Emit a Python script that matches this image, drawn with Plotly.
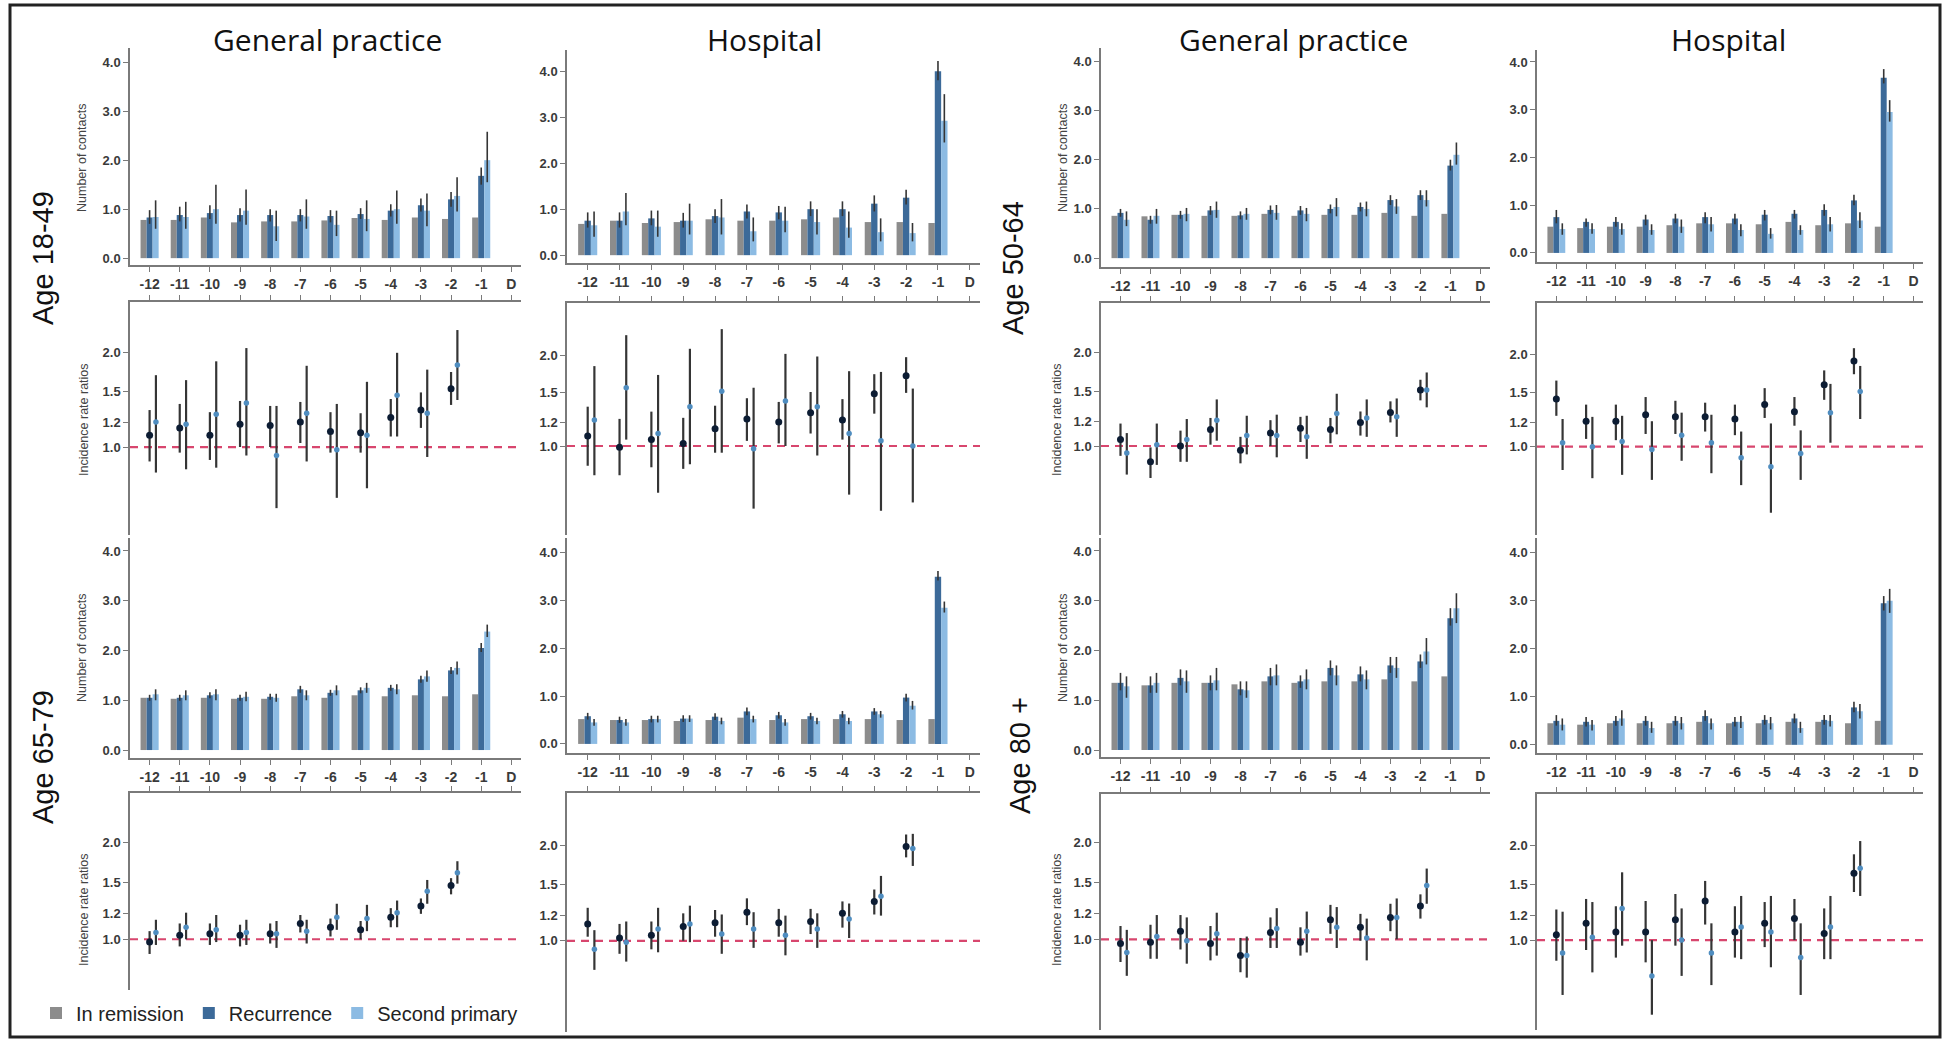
import plotly.graph_objects as go

W, H = 1946, 1040

# ---------------- categories ----------------
periods = ["-12", "-11", "-10", "-9", "-8", "-7", "-6", "-5", "-4", "-3", "-2", "-1", "D"]
bar_months = periods[:12]      # bars drawn for -12 .. -1
irr_months = periods[:11]      # IRRs drawn for -12 .. -2
series_names = ["In remission", "Recurrence", "Second primary"]
column_titles = ["General practice", "Hospital", "General practice", "Hospital"]
age_labels = ["Age 18-49", "Age 50-64", "Age 65-79", "Age 80 +"]

# ---------------- Number of contacts (bars) ----------------
# GP, age 18-49
gp1849_rem = [0.78, 0.78, 0.83, 0.73, 0.75, 0.75, 0.77, 0.82, 0.78, 0.83, 0.80, 0.83]
gp1849_rec = [0.83, 0.88, 0.92, 0.88, 0.88, 0.88, 0.86, 0.90, 0.97, 1.08, 1.20, 1.68]
gp1849_rec_lo = [0.70, 0.75, 0.80, 0.75, 0.75, 0.75, 0.73, 0.80, 0.85, 0.95, 1.05, 1.50]
gp1849_rec_hi = [0.98, 1.05, 1.08, 1.02, 1.00, 1.00, 0.98, 1.02, 1.10, 1.22, 1.35, 1.85]
gp1849_sec = [0.84, 0.84, 1.00, 0.97, 0.65, 0.85, 0.68, 0.80, 1.00, 0.97, 1.27, 2.00]
gp1849_sec_lo = [0.60, 0.60, 0.70, 0.68, 0.35, 0.60, 0.45, 0.55, 0.70, 0.65, 0.95, 1.55]
gp1849_sec_hi = [1.18, 1.15, 1.50, 1.40, 0.97, 1.20, 0.97, 1.18, 1.38, 1.32, 1.65, 2.58]
# Hospital, age 18-49
ho1849_rem = [0.68, 0.75, 0.70, 0.72, 0.78, 0.75, 0.75, 0.78, 0.82, 0.72, 0.72, 0.70]
ho1849_rec = [0.75, 0.75, 0.80, 0.75, 0.85, 0.95, 0.93, 1.00, 1.00, 1.12, 1.25, 4.00]
ho1849_rec_lo = [0.60, 0.60, 0.65, 0.60, 0.70, 0.80, 0.78, 0.85, 0.85, 0.95, 1.10, 3.80]
ho1849_rec_hi = [0.93, 0.93, 0.97, 0.92, 1.00, 1.10, 1.07, 1.17, 1.17, 1.30, 1.42, 4.22]
ho1849_sec = [0.65, 0.95, 0.62, 0.75, 0.82, 0.52, 0.75, 0.72, 0.60, 0.50, 0.48, 2.92]
ho1849_sec_lo = [0.40, 0.65, 0.40, 0.45, 0.45, 0.30, 0.50, 0.45, 0.38, 0.30, 0.30, 2.45]
ho1849_sec_hi = [0.95, 1.35, 0.97, 1.12, 1.22, 0.82, 1.05, 1.00, 0.95, 0.80, 0.70, 3.50]
# GP, age 50-64
gp5064_rem = [0.86, 0.85, 0.88, 0.86, 0.86, 0.90, 0.86, 0.88, 0.88, 0.92, 0.86, 0.90]
gp5064_rec = [0.92, 0.78, 0.88, 0.97, 0.87, 0.98, 0.97, 1.00, 1.04, 1.18, 1.28, 1.88]
gp5064_rec_lo = [0.84, 0.70, 0.80, 0.88, 0.79, 0.89, 0.88, 0.91, 0.95, 1.08, 1.18, 1.78]
gp5064_rec_hi = [1.00, 0.86, 0.96, 1.06, 0.95, 1.07, 1.06, 1.09, 1.13, 1.28, 1.38, 2.00]
gp5064_sec = [0.78, 0.86, 0.90, 0.98, 0.90, 0.92, 0.90, 1.04, 1.00, 1.05, 1.18, 2.10]
gp5064_sec_lo = [0.65, 0.70, 0.75, 0.82, 0.78, 0.78, 0.75, 0.85, 0.85, 0.90, 1.05, 1.90]
gp5064_sec_hi = [0.95, 1.00, 1.02, 1.15, 1.02, 1.08, 1.02, 1.22, 1.15, 1.20, 1.38, 2.35]
# Hospital, age 50-64
ho5064_rem = [0.55, 0.52, 0.55, 0.55, 0.58, 0.62, 0.62, 0.60, 0.65, 0.58, 0.62, 0.55]
ho5064_rec = [0.75, 0.65, 0.65, 0.70, 0.72, 0.75, 0.72, 0.80, 0.82, 0.90, 1.10, 3.67]
ho5064_rec_lo = [0.62, 0.55, 0.55, 0.58, 0.62, 0.62, 0.60, 0.68, 0.72, 0.78, 1.00, 3.55]
ho5064_rec_hi = [0.90, 0.72, 0.75, 0.80, 0.82, 0.85, 0.82, 0.90, 0.90, 1.02, 1.22, 3.85]
ho5064_sec = [0.50, 0.50, 0.50, 0.48, 0.55, 0.60, 0.48, 0.40, 0.48, 0.60, 0.68, 2.95]
ho5064_sec_lo = [0.38, 0.40, 0.38, 0.38, 0.42, 0.45, 0.35, 0.30, 0.38, 0.45, 0.52, 2.75]
ho5064_sec_hi = [0.62, 0.62, 0.62, 0.60, 0.70, 0.75, 0.60, 0.52, 0.58, 0.75, 0.85, 3.20]
# GP, age 65-79
gp6579_rem = [1.05, 1.03, 1.05, 1.03, 1.03, 1.08, 1.05, 1.10, 1.08, 1.10, 1.08, 1.12]
gp6579_rec = [1.05, 1.05, 1.10, 1.05, 1.07, 1.22, 1.15, 1.20, 1.25, 1.42, 1.60, 2.05]
gp6579_rec_lo = [0.99, 0.99, 1.04, 0.99, 1.01, 1.15, 1.09, 1.14, 1.19, 1.35, 1.53, 1.97]
gp6579_rec_hi = [1.11, 1.11, 1.16, 1.11, 1.13, 1.29, 1.21, 1.26, 1.31, 1.49, 1.67, 2.15]
gp6579_sec = [1.12, 1.10, 1.12, 1.07, 1.05, 1.10, 1.20, 1.25, 1.22, 1.48, 1.65, 2.38]
gp6579_sec_lo = [1.00, 1.00, 1.00, 0.98, 0.97, 1.00, 1.10, 1.15, 1.12, 1.37, 1.52, 2.27]
gp6579_sec_hi = [1.22, 1.20, 1.22, 1.17, 1.13, 1.20, 1.30, 1.35, 1.32, 1.60, 1.78, 2.52]
# Hospital, age 65-79
ho6579_rem = [0.52, 0.50, 0.50, 0.48, 0.50, 0.55, 0.50, 0.52, 0.52, 0.52, 0.50, 0.52]
ho6579_rec = [0.58, 0.50, 0.52, 0.53, 0.57, 0.68, 0.60, 0.58, 0.62, 0.68, 0.97, 3.50]
ho6579_rec_lo = [0.51, 0.44, 0.45, 0.46, 0.50, 0.60, 0.53, 0.51, 0.55, 0.61, 0.89, 3.42]
ho6579_rec_hi = [0.65, 0.57, 0.59, 0.60, 0.64, 0.76, 0.67, 0.65, 0.69, 0.75, 1.05, 3.62]
ho6579_sec = [0.45, 0.45, 0.52, 0.53, 0.48, 0.52, 0.45, 0.48, 0.48, 0.62, 0.80, 2.85]
ho6579_sec_lo = [0.38, 0.38, 0.45, 0.46, 0.41, 0.45, 0.38, 0.41, 0.41, 0.55, 0.72, 2.75]
ho6579_sec_hi = [0.52, 0.52, 0.59, 0.60, 0.55, 0.59, 0.52, 0.55, 0.55, 0.69, 0.90, 2.98]
# GP, age 80+
gp80_rem = [1.35, 1.30, 1.35, 1.35, 1.32, 1.38, 1.35, 1.38, 1.38, 1.42, 1.38, 1.48]
gp80_rec = [1.35, 1.30, 1.45, 1.35, 1.22, 1.48, 1.38, 1.65, 1.52, 1.70, 1.78, 2.65]
gp80_rec_lo = [1.20, 1.15, 1.30, 1.20, 1.10, 1.30, 1.25, 1.50, 1.38, 1.55, 1.65, 2.50]
gp80_rec_hi = [1.55, 1.48, 1.62, 1.50, 1.38, 1.65, 1.50, 1.80, 1.68, 1.87, 1.92, 2.85]
gp80_sec = [1.28, 1.35, 1.38, 1.40, 1.20, 1.50, 1.42, 1.50, 1.42, 1.65, 1.98, 2.85]
gp80_sec_lo = [1.05, 1.15, 1.15, 1.20, 1.05, 1.30, 1.22, 1.30, 1.22, 1.45, 1.72, 2.55]
gp80_sec_hi = [1.48, 1.55, 1.60, 1.65, 1.38, 1.72, 1.62, 1.70, 1.60, 1.87, 2.25, 3.15]
# Hospital, age 80+
ho80_rem = [0.45, 0.42, 0.45, 0.45, 0.45, 0.48, 0.45, 0.45, 0.48, 0.48, 0.45, 0.50]
ho80_rec = [0.50, 0.48, 0.50, 0.50, 0.50, 0.60, 0.48, 0.52, 0.55, 0.52, 0.78, 2.95]
ho80_rec_lo = [0.40, 0.38, 0.40, 0.40, 0.40, 0.50, 0.38, 0.42, 0.45, 0.42, 0.68, 2.80]
ho80_rec_hi = [0.62, 0.58, 0.60, 0.60, 0.60, 0.72, 0.58, 0.62, 0.65, 0.62, 0.90, 3.10]
ho80_sec = [0.42, 0.42, 0.55, 0.35, 0.45, 0.45, 0.48, 0.45, 0.35, 0.50, 0.70, 3.00]
ho80_sec_lo = [0.30, 0.30, 0.40, 0.25, 0.32, 0.32, 0.35, 0.32, 0.25, 0.38, 0.55, 2.75]
ho80_sec_hi = [0.55, 0.52, 0.72, 0.48, 0.58, 0.55, 0.60, 0.58, 0.48, 0.62, 0.85, 3.25]

# ---------------- Incidence rate ratios ----------------
irr_gp1849_rec = [1.09, 1.15, 1.09, 1.18, 1.17, 1.20, 1.12, 1.11, 1.24, 1.31, 1.53]
irr_gp1849_rec_lo = [0.90, 0.96, 0.91, 1.00, 1.00, 1.03, 0.96, 0.96, 1.08, 1.15, 1.36]
irr_gp1849_rec_hi = [1.31, 1.37, 1.29, 1.40, 1.35, 1.39, 1.29, 1.28, 1.42, 1.49, 1.73]
irr_gp1849_sec = [1.20, 1.18, 1.27, 1.38, 0.94, 1.28, 0.98, 1.09, 1.46, 1.28, 1.82]
irr_gp1849_sec_lo = [0.83, 0.85, 0.86, 0.94, 0.64, 0.90, 0.69, 0.74, 1.08, 0.93, 1.41]
irr_gp1849_sec_hi = [1.69, 1.63, 1.87, 2.06, 1.35, 1.81, 1.37, 1.61, 1.99, 1.76, 2.35]

irr_ho1849_rec = [1.08, 0.99, 1.05, 1.02, 1.14, 1.23, 1.20, 1.29, 1.22, 1.49, 1.71]
irr_ho1849_rec_lo = [0.86, 0.80, 0.85, 0.84, 0.95, 1.04, 1.02, 1.10, 1.05, 1.28, 1.50]
irr_ho1849_rec_hi = [1.35, 1.23, 1.30, 1.24, 1.36, 1.44, 1.40, 1.51, 1.43, 1.73, 1.97]
irr_ho1849_sec = [1.22, 1.56, 1.10, 1.35, 1.52, 0.98, 1.41, 1.35, 1.10, 1.04, 1.00]
irr_ho1849_sec_lo = [0.80, 1.05, 0.70, 0.87, 0.95, 0.62, 1.00, 0.93, 0.69, 0.61, 0.65]
irr_ho1849_sec_hi = [1.84, 2.33, 1.72, 2.10, 2.44, 1.56, 2.02, 1.98, 1.77, 1.76, 1.55]

irr_gp5064_rec = [1.05, 0.89, 1.00, 1.13, 0.97, 1.10, 1.14, 1.13, 1.19, 1.28, 1.51]
irr_gp5064_rec_lo = [0.93, 0.79, 0.89, 1.01, 0.88, 1.00, 1.03, 1.02, 1.08, 1.19, 1.40]
irr_gp5064_rec_hi = [1.18, 0.99, 1.12, 1.23, 1.07, 1.21, 1.24, 1.23, 1.29, 1.39, 1.63]
irr_gp5064_sec = [0.95, 1.01, 1.05, 1.21, 1.08, 1.08, 1.07, 1.27, 1.23, 1.24, 1.51]
irr_gp5064_sec_lo = [0.81, 0.87, 0.89, 1.04, 0.94, 0.92, 0.91, 1.09, 1.07, 1.07, 1.33]
irr_gp5064_sec_hi = [1.10, 1.18, 1.22, 1.41, 1.25, 1.26, 1.25, 1.47, 1.41, 1.42, 1.72]

irr_ho5064_rec = [1.43, 1.21, 1.21, 1.27, 1.25, 1.25, 1.23, 1.37, 1.30, 1.59, 1.90]
irr_ho5064_rec_lo = [1.26, 1.06, 1.05, 1.10, 1.10, 1.12, 1.09, 1.24, 1.17, 1.42, 1.72]
irr_ho5064_rec_hi = [1.64, 1.37, 1.37, 1.45, 1.41, 1.39, 1.37, 1.55, 1.45, 1.77, 2.09]
irr_ho5064_sec = [1.03, 1.00, 1.04, 0.98, 1.09, 1.03, 0.92, 0.86, 0.95, 1.29, 1.51]
irr_ho5064_sec_lo = [0.84, 0.79, 0.81, 0.78, 0.90, 0.82, 0.75, 0.61, 0.78, 1.03, 1.23]
irr_ho5064_sec_hi = [1.23, 1.25, 1.26, 1.21, 1.29, 1.27, 1.12, 1.19, 1.13, 1.60, 1.83]

irr_gp6579_rec = [0.98, 1.03, 1.04, 1.03, 1.04, 1.12, 1.09, 1.07, 1.17, 1.27, 1.47]
irr_gp6579_rec_lo = [0.90, 0.95, 0.96, 0.95, 0.97, 1.05, 1.02, 1.00, 1.09, 1.20, 1.38]
irr_gp6579_rec_hi = [1.06, 1.12, 1.12, 1.11, 1.12, 1.19, 1.16, 1.14, 1.25, 1.34, 1.55]
irr_gp6579_sec = [1.05, 1.09, 1.07, 1.05, 1.04, 1.06, 1.17, 1.16, 1.21, 1.41, 1.61]
irr_gp6579_sec_lo = [0.96, 1.00, 0.98, 0.96, 0.94, 0.97, 1.07, 1.06, 1.09, 1.29, 1.49]
irr_gp6579_sec_hi = [1.15, 1.21, 1.19, 1.15, 1.14, 1.15, 1.29, 1.28, 1.32, 1.53, 1.75]

irr_ho6579_rec = [1.13, 1.02, 1.04, 1.11, 1.14, 1.23, 1.14, 1.15, 1.22, 1.33, 1.98]
irr_ho6579_rec_lo = [1.03, 0.91, 0.94, 1.00, 1.03, 1.12, 1.03, 1.05, 1.10, 1.21, 1.83]
irr_ho6579_rec_hi = [1.27, 1.13, 1.15, 1.22, 1.25, 1.36, 1.26, 1.26, 1.33, 1.45, 2.16]
irr_ho6579_sec = [0.94, 0.99, 1.09, 1.13, 1.05, 1.09, 1.04, 1.09, 1.17, 1.38, 1.95]
irr_ho6579_sec_lo = [0.81, 0.86, 0.92, 0.99, 0.91, 0.95, 0.90, 0.95, 1.02, 1.20, 1.72]
irr_ho6579_sec_hi = [1.08, 1.15, 1.27, 1.29, 1.21, 1.23, 1.20, 1.22, 1.31, 1.60, 2.17]

irr_gp80_rec = [0.97, 0.98, 1.06, 0.97, 0.89, 1.05, 0.98, 1.15, 1.09, 1.17, 1.27]
irr_gp80_rec_lo = [0.85, 0.87, 0.93, 0.86, 0.79, 0.94, 0.89, 1.04, 0.99, 1.06, 1.16]
irr_gp80_rec_hi = [1.10, 1.11, 1.19, 1.10, 1.01, 1.17, 1.09, 1.28, 1.20, 1.29, 1.38]
irr_gp80_sec = [0.91, 1.02, 0.99, 1.04, 0.89, 1.08, 1.06, 1.09, 1.01, 1.17, 1.47]
irr_gp80_sec_lo = [0.77, 0.87, 0.84, 0.89, 0.76, 0.94, 0.91, 0.94, 0.86, 1.00, 1.29]
irr_gp80_sec_hi = [1.07, 1.19, 1.17, 1.21, 1.02, 1.25, 1.22, 1.26, 1.16, 1.34, 1.66]

irr_ho80_rec = [1.04, 1.13, 1.06, 1.06, 1.16, 1.33, 1.06, 1.13, 1.17, 1.05, 1.63]
irr_ho80_rec_lo = [0.86, 0.93, 0.88, 0.85, 0.96, 1.12, 0.88, 0.95, 1.00, 0.87, 1.42]
irr_ho80_rec_hi = [1.25, 1.35, 1.28, 1.33, 1.40, 1.54, 1.28, 1.32, 1.35, 1.26, 1.87]
irr_ho80_sec = [0.91, 1.02, 1.26, 0.77, 1.00, 0.91, 1.10, 1.06, 0.88, 1.10, 1.69]
irr_ho80_sec_lo = [0.67, 0.79, 0.96, 0.58, 0.77, 0.72, 0.87, 0.82, 0.67, 0.87, 1.38]
irr_ho80_sec_hi = [1.23, 1.32, 1.64, 1.00, 1.26, 1.13, 1.38, 1.38, 1.13, 1.38, 2.06]

bar_ticks = [0, 1, 2, 3, 4]
irr_ticks = [1.0, 1.2, 1.5, 2.0]
IRR_REF = 1.0

# ---------------- styles / layout ----------------
GREY, DARK, LIGHT = "#8c8c8c", "#3c6a99", "#8cbbe3"
DOT_DARK, DOT_LIGHT = "#0c1c33", "#4f8dc0"
ERR = "#353535"
AXIS = "#7a7a7a"
TXT = "#3a3a3a"
SANS = "Liberation Sans, Arial, sans-serif"
TITLE_FONT = "Open Sans, sans-serif"
SEC_SHIFT = 0.21                    # horizontal shift of the second-primary IRR marker
X_RANGE = [-0.65, 12.32]

COL_PX = [(130, 521), (567, 980), (1101, 1490), (1537, 1923)]
# (top px, bottom px, y-range) per column, for each block row
BAR_ROWS = [
    [(48, 265, [-0.14, 4.29]), (50, 263, [-0.17, 4.46]), (48, 267, [-0.18, 4.27]), (50, 262, [-0.19, 4.25])],
    [(538, 758, [-0.16, 4.26]), (538, 753, [-0.19, 4.31]), (538, 757, [-0.14, 4.26]), (538, 753, [-0.17, 4.31])],
]
IRR_ROWS = [
    [(302, 535, [-0.279, 0.460]), (303, 535, [-0.295, 0.474]), (303, 535, [-0.285, 0.458]), (303, 535, [-0.287, 0.467])],
    [(793, 990, [-0.158, 0.4555]), (793, 1032, [-0.287, 0.465]), (794, 1030, [-0.282, 0.452]), (794, 1030, [-0.285, 0.463])],
]

bar_panels = [
    [(gp1849_rem, gp1849_rec, gp1849_rec_lo, gp1849_rec_hi, gp1849_sec, gp1849_sec_lo, gp1849_sec_hi),
     (ho1849_rem, ho1849_rec, ho1849_rec_lo, ho1849_rec_hi, ho1849_sec, ho1849_sec_lo, ho1849_sec_hi),
     (gp5064_rem, gp5064_rec, gp5064_rec_lo, gp5064_rec_hi, gp5064_sec, gp5064_sec_lo, gp5064_sec_hi),
     (ho5064_rem, ho5064_rec, ho5064_rec_lo, ho5064_rec_hi, ho5064_sec, ho5064_sec_lo, ho5064_sec_hi)],
    [(gp6579_rem, gp6579_rec, gp6579_rec_lo, gp6579_rec_hi, gp6579_sec, gp6579_sec_lo, gp6579_sec_hi),
     (ho6579_rem, ho6579_rec, ho6579_rec_lo, ho6579_rec_hi, ho6579_sec, ho6579_sec_lo, ho6579_sec_hi),
     (gp80_rem, gp80_rec, gp80_rec_lo, gp80_rec_hi, gp80_sec, gp80_sec_lo, gp80_sec_hi),
     (ho80_rem, ho80_rec, ho80_rec_lo, ho80_rec_hi, ho80_sec, ho80_sec_lo, ho80_sec_hi)],
]
irr_panels = [
    [(irr_gp1849_rec, irr_gp1849_rec_lo, irr_gp1849_rec_hi, irr_gp1849_sec, irr_gp1849_sec_lo, irr_gp1849_sec_hi),
     (irr_ho1849_rec, irr_ho1849_rec_lo, irr_ho1849_rec_hi, irr_ho1849_sec, irr_ho1849_sec_lo, irr_ho1849_sec_hi),
     (irr_gp5064_rec, irr_gp5064_rec_lo, irr_gp5064_rec_hi, irr_gp5064_sec, irr_gp5064_sec_lo, irr_gp5064_sec_hi),
     (irr_ho5064_rec, irr_ho5064_rec_lo, irr_ho5064_rec_hi, irr_ho5064_sec, irr_ho5064_sec_lo, irr_ho5064_sec_hi)],
    [(irr_gp6579_rec, irr_gp6579_rec_lo, irr_gp6579_rec_hi, irr_gp6579_sec, irr_gp6579_sec_lo, irr_gp6579_sec_hi),
     (irr_ho6579_rec, irr_ho6579_rec_lo, irr_ho6579_rec_hi, irr_ho6579_sec, irr_ho6579_sec_lo, irr_ho6579_sec_hi),
     (irr_gp80_rec, irr_gp80_rec_lo, irr_gp80_rec_hi, irr_gp80_sec, irr_gp80_sec_lo, irr_gp80_sec_hi),
     (irr_ho80_rec, irr_ho80_rec_lo, irr_ho80_rec_hi, irr_ho80_sec, irr_ho80_sec_lo, irr_ho80_sec_hi)],
]


def err(val, lo, hi, thick):
    return dict(type="data", array=[h - v for v, h in zip(val, hi)],
                arrayminus=[v - l for v, l in zip(val, lo)],
                color=ERR, thickness=thick, width=0, visible=True)


def xdom(c):
    return [COL_PX[c][0] / W, COL_PX[c][1] / W]


def ydom(top, bot):
    return [1 - bot / H, 1 - top / H]


tick_font = dict(family=SANS, size=13, color=TXT, weight="bold")

fig = go.Figure()
layout_axes = {}
shapes = []
annotations = []
n = 0
bar_x = list(range(len(bar_months)))
irr_x = list(range(len(irr_months)))
irr_x_sec = [i + SEC_SHIFT for i in irr_x]
tickvals_x = list(range(len(periods)))

for r in range(2):
    for c in range(4):
        # ---- bar panel ----
        n += 1
        xa, ya = f"x{n}", f"y{n}"
        rem, rec, rec_lo, rec_hi, sec, sec_lo, sec_hi = bar_panels[r][c]
        first = (n == 1)
        fig.add_trace(go.Bar(x=bar_x, y=rem, name=series_names[0], marker=dict(color=GREY, line_width=0),
                             xaxis=xa, yaxis=ya, showlegend=first, legendgroup="rem", hoverinfo="skip"))
        fig.add_trace(go.Bar(x=bar_x, y=rec, name=series_names[1], marker=dict(color=DARK, line_width=0),
                             error_y=err(rec, rec_lo, rec_hi, 1.6),
                             xaxis=xa, yaxis=ya, showlegend=first, legendgroup="rec", hoverinfo="skip"))
        fig.add_trace(go.Bar(x=bar_x, y=sec, name=series_names[2], marker=dict(color=LIGHT, line_width=0),
                             error_y=err(sec, sec_lo, sec_hi, 1.6),
                             xaxis=xa, yaxis=ya, showlegend=first, legendgroup="sec", hoverinfo="skip"))
        top, bot, yr = BAR_ROWS[r][c]
        layout_axes[f"xaxis{n}"] = dict(domain=xdom(c), anchor=ya, range=X_RANGE, tickmode="array",
                                        tickvals=tickvals_x, ticktext=periods, showline=True, linecolor=AXIS,
                                        linewidth=1.5, ticks="outside", ticklen=5, tickcolor=AXIS, tickwidth=1.2,
                                        showgrid=False, zeroline=False,
                                        tickfont=dict(family=SANS, size=14, color=TXT, weight="bold"))
        layout_axes[f"yaxis{n}"] = dict(domain=ydom(top, bot), anchor=xa, range=yr, tickmode="array",
                                        tickvals=bar_ticks, tickformat=".1f", showline=True, linecolor=AXIS,
                                        linewidth=1.5, ticks="outside", ticklen=5, tickcolor=AXIS, tickwidth=1.2,
                                        showgrid=False, zeroline=False, tickfont=tick_font)
        if c in (0, 2):
            annotations.append(dict(text="Number of contacts", textangle=-90, xref="paper", yref="paper",
                                    x=(82 if c == 0 else 1063) / W, y=1 - (158 if r == 0 else 648) / H,
                                    showarrow=False, xanchor="center", yanchor="middle",
                                    font=dict(family=SANS, size=12.5, color="#444444")))

        # ---- IRR panel ----
        n += 1
        xa, ya = f"x{n}", f"y{n}"
        i_rec, i_rec_lo, i_rec_hi, i_sec, i_sec_lo, i_sec_hi = irr_panels[r][c]
        fig.add_trace(go.Scatter(x=irr_x, y=i_rec, mode="markers", name="Recurrence IRR",
                                 marker=dict(color=DOT_DARK, size=7), error_y=err(i_rec, i_rec_lo, i_rec_hi, 2.2),
                                 xaxis=xa, yaxis=ya, showlegend=False, hoverinfo="skip"))
        fig.add_trace(go.Scatter(x=irr_x_sec, y=i_sec, mode="markers", name="Second primary IRR",
                                 marker=dict(color=DOT_LIGHT, size=5.5), error_y=err(i_sec, i_sec_lo, i_sec_hi, 2.2),
                                 xaxis=xa, yaxis=ya, showlegend=False, hoverinfo="skip"))
        top, bot, yr = IRR_ROWS[r][c]
        layout_axes[f"xaxis{n}"] = dict(domain=xdom(c), anchor=ya, side="top", range=X_RANGE, tickmode="array",
                                        tickvals=tickvals_x, showticklabels=False, showline=True, linecolor=AXIS,
                                        linewidth=1.5, ticks="outside", ticklen=5, tickcolor=AXIS, tickwidth=1.2,
                                        showgrid=False, zeroline=False)
        layout_axes[f"yaxis{n}"] = dict(domain=ydom(top, bot), anchor=xa, type="log", range=yr, tickmode="array",
                                        tickvals=irr_ticks, tickformat=".1f", showline=True, linecolor=AXIS,
                                        linewidth=1.5, ticks="outside", ticklen=5, tickcolor=AXIS, tickwidth=1.2,
                                        showgrid=False, zeroline=False, tickfont=tick_font)
        shapes.append(dict(type="line", xref=f"{xa} domain", yref=ya, x0=0, x1=1, y0=IRR_REF, y1=IRR_REF,
                           line=dict(color="#d8466e", width=2.2, dash="8px,6px"), layer="below"))
        if c in (0, 2):
            annotations.append(dict(text="Incidence rate ratios", textangle=-90, xref="paper", yref="paper",
                                    x=(84 if c == 0 else 1057) / W, y=1 - (420 if r == 0 else 910) / H,
                                    showarrow=False, xanchor="center", yanchor="middle",
                                    font=dict(family=SANS, size=12.5, color="#444444")))

# column titles
for title, cx in zip(column_titles, [327, 764, 1293, 1728]):
    annotations.append(dict(text=title, xref="paper", yref="paper", x=cx / W, y=1 - 40 / H,
                            showarrow=False, xanchor="center", yanchor="middle",
                            font=dict(family=TITLE_FONT, size=30, color="#111111")))
# age labels
for lab, (cx, cy) in zip(age_labels, [(43, 258), (1013, 268), (43, 757), (1020, 756)]):
    annotations.append(dict(text=lab, textangle=-90, xref="paper", yref="paper", x=cx / W, y=1 - cy / H,
                            showarrow=False, xanchor="center", yanchor="middle",
                            font=dict(family=SANS, size=29, color="#111111")))

# outer frame
shapes.append(dict(type="rect", xref="paper", yref="paper", x0=10 / W, x1=1940 / W, y0=1 - 1037 / H, y1=1 - 5 / H,
                   line=dict(color="#222222", width=3), fillcolor="rgba(0,0,0,0)"))

fig.update_layout(
    width=W, height=H, margin=dict(l=0, r=0, t=0, b=0),
    paper_bgcolor="white", plot_bgcolor="white",
    barmode="group", bargap=0.4, bargroupgap=0.0,
    showlegend=True,
    legend=dict(orientation="h", x=36 / W, y=1 - 1013 / H, xanchor="left", yanchor="middle",
                font=dict(family=SANS, size=20, color="#222222"), bgcolor="rgba(0,0,0,0)",
                itemwidth=30, itemclick=False, itemdoubleclick=False),
    shapes=shapes, annotations=annotations,
    **layout_axes,
)

fig.write_html("out.html", config={"displayModeBar": False},
               post_script="document.body.style.margin='0px';document.body.style.overflow='hidden';")
